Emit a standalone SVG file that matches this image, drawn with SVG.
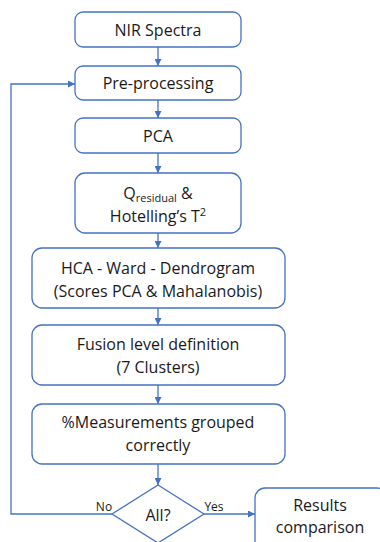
<svg xmlns="http://www.w3.org/2000/svg" width="380" height="542" viewBox="0 0 380 542">
<defs>
<style>
.box{fill:#fff;stroke:#4472C4;stroke-width:1.3}
.t{font-family:"Open Sans","Liberation Sans",sans-serif;font-size:16px;fill:#1a1a1a;text-anchor:middle}
.s{font-family:"Open Sans","Liberation Sans",sans-serif;font-size:12px;fill:#1a1a1a;text-anchor:middle}
.c{fill:none;stroke:#4472C4;stroke-width:1.3}
</style>
<marker id="ah" viewBox="0 0 10 10" refX="10" refY="5" markerWidth="7" markerHeight="7" markerUnits="userSpaceOnUse" orient="auto">
<path d="M0,0 L10,5 L0,10 z" fill="#4472C4"/>
</marker>
</defs>
<rect width="380" height="542" fill="#fff"/>
<g id="connectors">
<line class="c" x1="158" y1="47" x2="158" y2="66" marker-end="url(#ah)"/>
<line class="c" x1="158" y1="100" x2="158" y2="118" marker-end="url(#ah)"/>
<line class="c" x1="158" y1="153" x2="158" y2="173" marker-end="url(#ah)"/>
<line class="c" x1="158" y1="233" x2="158" y2="248" marker-end="url(#ah)"/>
<line class="c" x1="158" y1="308" x2="158" y2="325" marker-end="url(#ah)"/>
<line class="c" x1="158" y1="385" x2="158" y2="404" marker-end="url(#ah)"/>
<line class="c" x1="158" y1="464" x2="158" y2="485" marker-end="url(#ah)"/>
<polyline class="c" points="112,514 11,514 11,84 75,84" marker-end="url(#ah)"/>
<line class="c" x1="204" y1="514" x2="255" y2="514" marker-end="url(#ah)"/>
<text class="s" x="104" y="511">No</text>
<text class="s" x="214" y="511">Yes</text>
</g>
<g id="n1"><rect class="box" x="75" y="12" width="166" height="35" rx="8"/><text class="t" x="158" y="36">NIR Spectra</text></g>
<g id="n2"><rect class="box" x="75" y="66" width="166" height="34" rx="8"/><text class="t" x="158" y="89">Pre-processing</text></g>
<g id="n3"><rect class="box" x="75" y="118" width="166" height="35" rx="8"/><text class="t" x="158" y="142">PCA</text></g>
<g id="n4"><rect class="box" x="75" y="173" width="166" height="60" rx="10"/>
<text class="t" x="158" y="199">Q<tspan font-size="11" dy="3">residual</tspan><tspan dy="-3"> &amp;</tspan></text>
<text class="t" x="158" y="222">Hotelling’s T<tspan font-size="11" dy="-6">2</tspan></text></g>
<g id="n5"><rect class="box" x="32" y="248" width="253" height="60" rx="10"/>
<text class="t" x="158" y="274">HCA - Ward - Dendrogram</text>
<text class="t" x="158" y="297">(Scores PCA &amp; Mahalanobis)</text></g>
<g id="n6"><rect class="box" x="32" y="325" width="253" height="60" rx="10"/>
<text class="t" x="158" y="350">Fusion level definition</text>
<text class="t" x="158" y="373">(7 Clusters)</text></g>
<g id="n7"><rect class="box" x="32" y="404" width="253" height="60" rx="10"/>
<text class="t" x="158" y="428">%Measurements grouped</text>
<text class="t" x="158" y="451">correctly</text></g>
<g id="n8"><polygon class="box" points="158,485 204,514 158,543 112,514"/>
<text class="t" x="158" y="521">All?</text></g>
<g id="n9"><rect class="box" x="255" y="488" width="132" height="70" rx="10"/>
<text class="t" x="320" y="511">Results</text>
<text class="t" x="320" y="533">comparison</text></g>
</svg>
